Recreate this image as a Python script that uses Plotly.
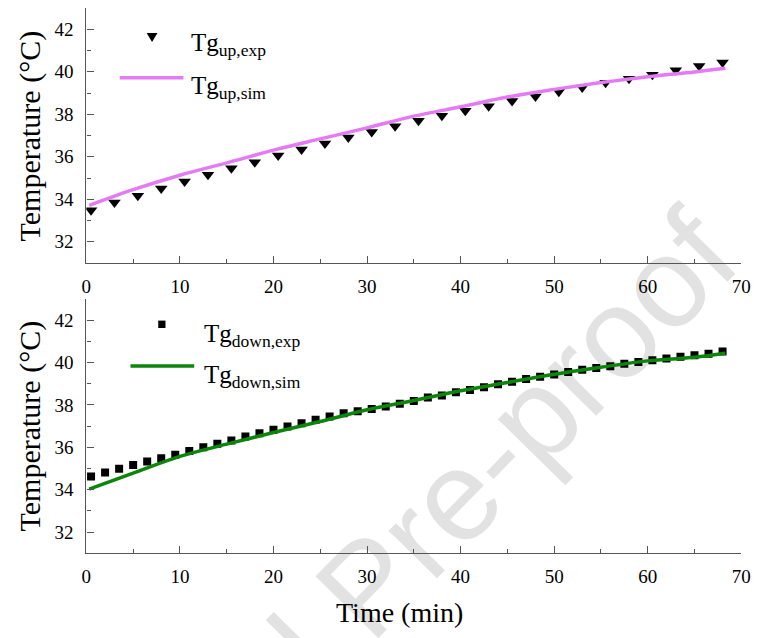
import plotly.graph_objects as go
from plotly.subplots import make_subplots

# Time axis (min) and measured / simulated temperatures (°C)
up_exp_time = [0.5, 3.0, 5.5, 8.0, 10.5, 13.0, 15.5, 18.0, 20.5, 23.0, 25.5, 28.0, 30.5, 33.0,
               35.5, 38.0, 40.5, 43.0, 45.5, 48.0, 50.5, 53.0, 55.5, 58.0, 60.5, 63.0, 65.5, 68.0]
up_exp_temp = [33.48, 33.85, 34.17, 34.51, 34.83, 35.15, 35.46, 35.74, 36.06, 36.34, 36.62, 36.91,
               37.16, 37.43, 37.69, 37.93, 38.16, 38.38, 38.62, 38.84, 39.06, 39.26, 39.48, 39.67,
               39.86, 40.07, 40.27, 40.43]

sim_time = [0.3, 5, 10, 15, 20, 25, 30, 35, 40, 45, 50, 55, 60, 65, 68.3]
up_sim_temp = [33.71, 34.45, 35.13, 35.71, 36.31, 36.84, 37.36, 37.91, 38.35, 38.81, 39.17,
               39.49, 39.77, 39.99, 40.16]

down_exp_time = [0.5, 2.0, 3.5, 5.0, 6.5, 8.0, 9.5, 11.0, 12.5, 14.0, 15.5, 17.0, 18.5, 20.0,
                 21.5, 23.0, 24.5, 26.0, 27.5, 29.0, 30.5, 32.0, 33.5, 35.0, 36.5, 38.0, 39.5,
                 41.0, 42.5, 44.0, 45.5, 47.0, 48.5, 50.0, 51.5, 53.0, 54.5, 56.0, 57.5, 59.0,
                 60.5, 62.0, 63.5, 65.0, 66.5, 68.0]
down_exp_temp = [34.62, 34.81, 34.99, 35.17, 35.33, 35.49, 35.65, 35.83, 36.01, 36.17, 36.32,
                 36.51, 36.67, 36.83, 36.98, 37.14, 37.30, 37.45, 37.61, 37.70, 37.81, 37.93,
                 38.06, 38.19, 38.35, 38.45, 38.60, 38.71, 38.84, 38.98, 39.10, 39.23, 39.33,
                 39.44, 39.55, 39.66, 39.74, 39.83, 39.94, 40.03, 40.11, 40.19, 40.27, 40.35,
                 40.42, 40.52]
down_sim_temp = [34.03, 34.78, 35.57, 36.15, 36.70, 37.22, 37.77, 38.21, 38.67, 39.06, 39.45,
                 39.78, 40.08, 40.25, 40.44]

x_ticks = [0, 10, 20, 30, 40, 50, 60, 70]
y_ticks = [32, 34, 36, 38, 40, 42]

W, H = 765, 638
PINK = "#E47BF4"
GREEN = "#0B860B"
AXIS = "#555555"
SERIF = "Liberation Serif"


def px(x):
    return x / W


def py(y):
    return 1 - y / H


fig = make_subplots(rows=2, cols=1, shared_xaxes=False, vertical_spacing=0.05)

fig.add_trace(go.Scatter(x=up_exp_time, y=up_exp_temp, mode="markers",
                         marker=dict(symbol="triangle-down", size=11, color="black"),
                         showlegend=False), row=1, col=1)
fig.add_trace(go.Scatter(x=sim_time, y=up_sim_temp, mode="lines",
                         line=dict(color=PINK, width=3.5, shape="spline"),
                         showlegend=False), row=1, col=1)
fig.add_trace(go.Scatter(x=down_exp_time, y=down_exp_temp, mode="markers",
                         marker=dict(symbol="square", size=8, color="black"),
                         showlegend=False), row=2, col=1)
fig.add_trace(go.Scatter(x=sim_time, y=down_sim_temp, mode="lines",
                         line=dict(color=GREEN, width=3.5, shape="spline"),
                         showlegend=False), row=2, col=1)

xdom = [px(83), px(751)]
for r, (top, bot) in enumerate([(8, 263), (299, 553.3)], start=1):
    fig.update_xaxes(range=[0, 70], tickvals=x_ticks, domain=xdom,
                     showline=True, linecolor=AXIS, linewidth=1.3, ticks="inside",
                     tickcolor=AXIS, ticklen=7, tickwidth=1.2, showgrid=False, zeroline=False,
                     tickfont=dict(family=SERIF, size=19, color="black"),
                     ticklabelstandoff=6,
                     minor=dict(ticks="inside", ticklen=4, tickcolor=AXIS, tickwidth=1.1,
                                dtick=5, tick0=5),
                     row=r, col=1)
    fig.update_yaxes(range=[31, 43], tickvals=y_ticks, domain=[py(bot), py(top)],
                     showline=True, linecolor=AXIS, linewidth=1.3, ticks="inside",
                     tickcolor=AXIS, ticklen=7, tickwidth=1.2, showgrid=False, zeroline=False,
                     tickfont=dict(family=SERIF, size=19, color="black"),
                     ticklabelstandoff=8,
                     minor=dict(ticks="inside", ticklen=4, tickcolor=AXIS, tickwidth=1.1,
                                dtick=1, tick0=31),
                     row=r, col=1)

annotations = [
    dict(text="Temperature (°C)", x=px(26), y=py(136), textangle=-90, size=30),
    dict(text="Temperature (°C)", x=px(26), y=py(426), textangle=-90, size=30),
    dict(text="Time (min)", x=px(402), y=py(612), size=28),
]
for a in annotations:
    size = a.pop("size")
    a.update(xref="paper", yref="paper", showarrow=False, xanchor="center", yanchor="middle",
             font=dict(family=SERIF, size=size, color="black"))

legend_texts = [
    ("Tg<sub>up,exp</sub>", 188, 45),
    ("Tg<sub>up,sim</sub>", 188, 87),
    ("Tg<sub>down,exp</sub>", 201, 335),
    ("Tg<sub>down,sim</sub>", 201, 376),
]
for t, x, y in legend_texts:
    annotations.append(dict(text=t, x=px(x), y=py(y), xref="paper", yref="paper",
                            showarrow=False, xanchor="left", yanchor="middle",
                            font=dict(family=SERIF, size=25, color="black")))

shapes = [
    # watermark
    dict(type="line", xref="paper", yref="paper", x0=px(-140), y0=py(1078), x1=px(860), y1=py(78),
         line=dict(color="rgba(0,0,0,0)", width=0), layer="below",
         label=dict(text="Journal Pre-proof", textposition="middle", yanchor="middle",
                    font=dict(family="Liberation Sans", size=128, color="#E2E2E2"))),
    # legend swatches
    dict(type="line", xref="paper", yref="paper", x0=px(117), x1=px(182), y0=py(77.7), y1=py(77.7),
         line=dict(color=PINK, width=3.5)),
    dict(type="line", xref="paper", yref="paper", x0=px(128), x1=px(193), y0=py(366), y1=py(366),
         line=dict(color=GREEN, width=3.5)),
    dict(type="path", xref="paper", yref="paper",
         path=f"M {px(144.5)} {py(33)} L {px(155.5)} {py(33)} L {px(150)} {py(42)} Z",
         fillcolor="black", line=dict(width=0)),
    dict(type="rect", xref="paper", yref="paper", x0=px(156.3), x1=px(163.7),
         y0=py(328), y1=py(320.6), fillcolor="black", line=dict(width=0)),
]

fig.update_layout(width=W, height=H, margin=dict(l=0, r=0, t=0, b=0),
                  font=dict(family=SERIF, color="black"),
                  paper_bgcolor="white", plot_bgcolor="rgba(0,0,0,0)",
                  annotations=annotations, shapes=shapes, showlegend=False)

fig.write_html("out.html")
